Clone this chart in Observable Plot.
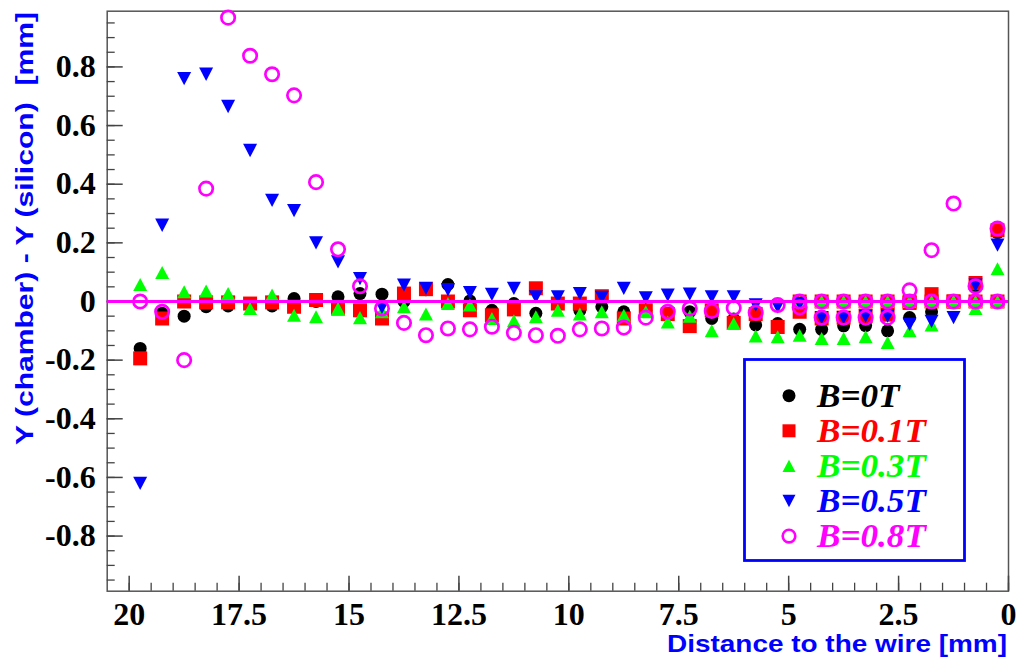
<!DOCTYPE html>
<html><head><meta charset="utf-8">
<script src="https://cdn.jsdelivr.net/npm/d3@7"></script>
<script src="https://cdn.jsdelivr.net/npm/@observablehq/plot@0.6"></script>
<style>body{margin:0;background:#fff;} #chart{position:relative;width:1023px;height:662px;}</style>
</head><body><div id="chart"></div>
<script>
const distance = [19.75,19.25,18.75,18.25,17.75,17.25,16.75,16.25,15.75,15.25,14.75,14.25,13.75,13.25,12.75,12.25,11.75,11.25,10.75,10.25,9.75,9.25,8.75,8.25,7.75,7.25,6.75,6.25,5.75,5.25,4.75,4.25,3.75,3.25,2.75,2.25,1.75,1.25,0.75,0.25];
const b0T = [-0.16,-0.04,-0.05,-0.018,-0.015,-0.01,-0.015,0.01,0.0,0.016,0.027,0.025,0.0,0.04,0.058,0.002,-0.03,-0.007,-0.04,-0.01,
  -0.03,-0.018,-0.035,-0.03,-0.04,-0.035,-0.058,-0.06,-0.08,-0.075,-0.095,-0.095,-0.083,-0.082,-0.1,-0.055,-0.035,0.0,0.05,0.235];
const b01T = [-0.194,-0.058,0.0,-0.003,-0.003,-0.007,-0.003,-0.018,0.005,-0.024,-0.03,-0.058,0.027,0.042,0.0,-0.03,-0.047,-0.027,0.045,-0.007,
  -0.007,0.018,-0.058,-0.03,-0.043,-0.084,-0.03,-0.073,-0.043,-0.087,-0.035,-0.058,-0.055,-0.05,-0.045,-0.005,0.025,0.0,0.063,0.243];
const b03T = [0.058,0.099,0.033,0.036,0.027,-0.024,0.022,-0.047,-0.052,-0.024,-0.055,-0.035,-0.018,-0.043,-0.007,-0.012,-0.058,-0.066,-0.052,-0.03,
  -0.043,-0.035,-0.047,-0.035,-0.07,-0.05,-0.1,-0.075,-0.118,-0.12,-0.115,-0.126,-0.126,-0.12,-0.14,-0.1,-0.08,0.0,-0.024,0.112];
const b05T = [-0.62,0.26,0.76,0.775,0.665,0.515,0.345,0.31,0.2,0.135,0.078,-0.02,0.056,0.045,0.04,0.03,0.024,0.045,0.016,0.016,
  0.027,0.014,0.045,0.012,0.022,0.025,0.016,0.016,-0.012,-0.018,-0.007,-0.055,-0.055,-0.05,-0.05,-0.078,-0.068,-0.055,0.056,0.192];
const b08T = [0.0,-0.035,-0.2,0.385,0.968,0.838,0.775,0.703,0.407,0.178,0.052,-0.024,-0.073,-0.115,-0.092,-0.095,-0.086,-0.107,-0.115,-0.117,
  -0.095,-0.092,-0.089,-0.055,-0.035,-0.024,-0.032,-0.022,-0.038,-0.012,-0.02,-0.055,-0.055,-0.055,-0.055,0.038,0.175,0.334,0.052,0.249];
// extra points lying at exactly zero near the wire (red, green, magenta series)
const zeroDistance = [4.75,4.25,3.75,3.25,2.75,2.25,1.75,1.25,0.75,0.25];
const xTicks = [20,17.5,15,12.5,10,7.5,5,2.5,0];
const xMinor = d3.range(0, 41).map(i => i * 0.5);
const yTicks = [-0.8,-0.6,-0.4,-0.2,0,0.2,0.4,0.6,0.8];
const yMinor = d3.range(-19, 20).map(i => +(i * 0.05).toFixed(2));
const xDomain = [20.5, 0];
const yDomain = [-0.988, 0.99];
const legendLabels = ["B=0T","B=0.1T","B=0.3T","B=0.5T","B=0.8T"];
const colors = ["#000000","#ff0000","#00ff00","#0000ff","#ff00ff"];

const W = 1023, H = 662, mL = 106.7, mR = 15, mT = 10.7, mB = 71.3;
const pw = W - mL - mR, ph = H - mT - mB;
const rows = ys => distance.map((x, i) => ({x, y: ys[i]}));
const zeros = zeroDistance.map(x => ({x, y: 0}));
const serif = "'Liberation Serif', 'Times New Roman', serif";

// ROOT-like triangles: width 2r, height ~1.85r, centred on the point
const triUp = {draw(ctx, size) { const r = Math.sqrt(size / Math.PI); const h = r * 0.93;
  ctx.moveTo(0, -h); ctx.lineTo(r, h); ctx.lineTo(-r, h); ctx.closePath(); }};
const triDown = {draw(ctx, size) { const r = Math.sqrt(size / Math.PI); const h = r * 0.95;
  ctx.moveTo(0, h); ctx.lineTo(r, -h); ctx.lineTo(-r, -h); ctx.closePath(); }};

const svg = Plot.plot({
  width: W, height: H,
  marginLeft: mL, marginRight: mR, marginTop: mT, marginBottom: mB,
  x: {domain: xDomain, label: null},
  y: {domain: yDomain, label: null},
  style: {background: "white", fontFamily: serif},
  marks: [
    Plot.frame({stroke: "#555", strokeWidth: 1.5}),
    Plot.tickX(xMinor, {x: d => d, insetTop: ph - 8, stroke: "#444", strokeWidth: 1.3}),
    Plot.tickX(xTicks, {x: d => d, insetTop: ph - 15, stroke: "#444", strokeWidth: 1.5}),
    Plot.tickY(yMinor, {y: d => d, insetRight: pw - 8, stroke: "#444", strokeWidth: 1.3}),
    Plot.tickY(yTicks, {y: d => d, insetRight: pw - 16, stroke: "#444", strokeWidth: 1.5}),
    Plot.axisX(xTicks, {tickSize: 0, tickPadding: 11, label: null, tickFormat: d => String(d),
      fontSize: 32, fontWeight: "bold", fontFamily: serif, fill: "black"}),
    Plot.axisY(yTicks, {tickSize: 0, tickPadding: 11.5, label: null, tickFormat: d => String(+d.toFixed(1)),
      fontSize: 32, fontWeight: "bold", fontFamily: serif, fill: "black"}),
    Plot.dot(rows(b0T), {x: "x", y: "y", r: 6.5, fill: colors[0]}),
    Plot.dot(rows(b01T), {x: "x", y: "y", r: 7.9, symbol: "square", fill: colors[1]}),
    Plot.dot(zeros, {x: "x", y: "y", r: 7.9, symbol: "square", fill: colors[1]}),
    Plot.dot(rows(b03T), {x: "x", y: "y", r: 7, symbol: triUp, fill: colors[2]}),
    Plot.dot(zeros, {x: "x", y: "y", r: 7, symbol: triUp, fill: colors[2]}),
    Plot.dot(rows(b05T), {x: "x", y: "y", r: 7, symbol: triDown, fill: colors[3]}),
    Plot.ruleY([0], {stroke: "#ff00ff", strokeWidth: 3}),
    Plot.dot(rows(b08T), {x: "x", y: "y", r: 6.7, fill: "none", stroke: colors[4], strokeWidth: 2.7}),
    Plot.dot(zeros, {x: "x", y: "y", r: 6.7, fill: "none", stroke: colors[4], strokeWidth: 2.7})
  ]
});
document.getElementById("chart").appendChild(svg);

const s = d3.select(svg);
const sans = "'Liberation Sans', Arial, Helvetica, sans-serif";
// axis titles
s.append("text").text("Distance to the wire [mm]")
  .attr("x", 1007).attr("y", 652).attr("text-anchor", "end")
  .attr("font-family", sans).attr("font-weight", "bold").attr("font-size", 24)
  .attr("fill", "#0000ff").attr("textLength", 340).attr("lengthAdjust", "spacingAndGlyphs");
s.append("text").text("Y (chamber) - Y (silicon)  [mm]")
  .attr("transform", "translate(33,12) rotate(-90)").attr("text-anchor", "end")
  .style("white-space", "pre")
  .attr("font-family", sans).attr("font-weight", "bold").attr("font-size", 24)
  .attr("fill", "#0000ff").attr("textLength", 433).attr("lengthAdjust", "spacingAndGlyphs");

// legend
const lg = s.append("g");
lg.append("rect").attr("x", 744.5).attr("y", 359.5).attr("width", 220).attr("height", 201)
  .attr("fill", "white").attr("stroke", "#0000ff").attr("stroke-width", 2.8);
const legendPaths = [
  d3.symbol(d3.symbolCircle, Math.PI * 6.5 * 6.5)(),
  d3.symbol(d3.symbolSquare, 13 * 13)(),
  d3.symbol(triUp, Math.PI * 6.5 * 6.5)(),
  d3.symbol(triDown, Math.PI * 6.5 * 6.5)(),
  d3.symbol(d3.symbolCircle, Math.PI * 6.3 * 6.3)()
];
legendLabels.forEach((lab, i) => {
  const cy = 395.7 + i * 35.1;
  const p = lg.append("path").attr("d", legendPaths[i]).attr("transform", `translate(789,${cy})`);
  if (i === 4) p.attr("fill", "none").attr("stroke", colors[i]).attr("stroke-width", 2.6);
  else p.attr("fill", colors[i]);
  const t = lg.append("text").text(lab).attr("x", 817).attr("y", cy + 11.2).attr("text-anchor", "start")
    .attr("font-family", serif).attr("font-weight", "bold").attr("font-style", "italic")
    .attr("font-size", 33).attr("fill", colors[i]);
  const len = t.node().getComputedTextLength();
  if (len > 0) t.attr("textLength", len * 1.065).attr("lengthAdjust", "spacingAndGlyphs");
});
</script></body></html>
